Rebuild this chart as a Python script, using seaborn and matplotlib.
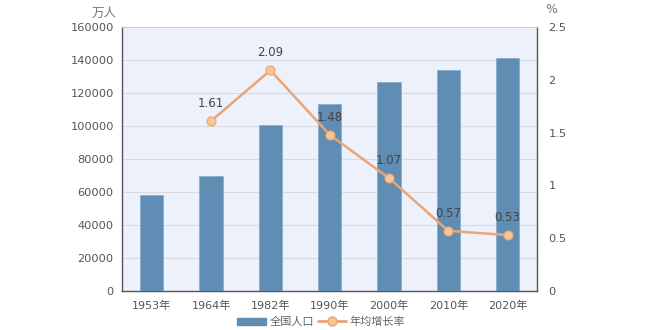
import matplotlib
matplotlib.use("Agg")
import matplotlib.pyplot as plt
import seaborn as sns
import pandas as pd
import numpy as np
from matplotlib.lines import Line2D
from matplotlib.patches import Patch

years = ["1953年", "1964年", "1982年", "1990年", "2000年", "2010年", "2020年"]
population = [58260, 69458, 100818, 113368, 126583, 133972, 141178]
rate_years = ["1964年", "1982年", "1990年", "2000年", "2010年", "2020年"]
rates = [1.61, 2.09, 1.48, 1.07, 0.57, 0.53]
left_ticks = [0, 20000, 40000, 60000, 80000, 100000, 120000, 140000, 160000]
right_ticks = [0, 0.5, 1, 1.5, 2, 2.5]
right_labels = ["0", "0.5", "1", "1.5", "2", "2.5"]

sns.set_theme(style="white")
plt.rcParams["font.family"] = ["DejaVu Sans", "Noto Sans CJK SC"]

txt = "#555555"
bar_c = "#5F8DB3"
line_c = "#EAA576"
mk_c = "#F9C594"

fig = plt.figure(figsize=(6.6, 3.3), dpi=100)
ax = fig.add_axes([0.185, 0.118, 0.629, 0.800])
ax.set_facecolor("#EDF1FB")

df = pd.DataFrame({"year": years, "pop": population})
sns.barplot(data=df, x="year", y="pop", ax=ax, color=bar_c, width=0.39,
            saturation=1, edgecolor="#8AAECB", linewidth=0.6, zorder=3)
ax.set_ylim(0, 160000)
ax.set_xlim(-0.5, len(years) - 0.5)
ax.set_yticks(left_ticks)
ax.set_yticklabels([str(v) for v in left_ticks], fontsize=8.2, color=txt)
ax.yaxis.grid(True, color="#D9D9DE", linewidth=0.8, zorder=0)
ax.set_axisbelow(True)
ax.set_xlabel("")
ax.set_ylabel("")
ax.set_xticks(range(len(years)))
ax.set_xticklabels(years, fontsize=8, color=txt, family=["DejaVu Sans", "Noto Sans CJK SC"])
ax.tick_params(axis="x", length=0, pad=7)
ax.tick_params(axis="y", length=0, pad=6)
# boundary ticks
ax.set_xticks(np.arange(-0.5, len(years) + 0.5, 1), minor=True)
ax.tick_params(axis="x", which="minor", length=4, color="#444444", direction="out")
for s in ["left", "bottom", "right"]:
    ax.spines[s].set_color("#555555")
    ax.spines[s].set_linewidth(1.0)
ax.spines["top"].set_color("#C8CCD6")
ax.spines["top"].set_linewidth(0.8)

ax2 = ax.twinx()
pos = [years.index(y) for y in rate_years]
ldf = pd.DataFrame({"x": pos, "r": rates})
sns.lineplot(data=ldf, x="x", y="r", ax=ax2, color=line_c, linewidth=1.8,
             marker="o", markersize=6.5, markerfacecolor=mk_c,
             markeredgecolor=line_c, markeredgewidth=0.8, zorder=5)
ax2.set_ylim(0, 2.5)
ax2.set_yticks(right_ticks)
ax2.set_yticklabels(right_labels, fontsize=8.2, color=txt)
ax2.tick_params(axis="y", length=0, pad=8)
ax2.set_ylabel("")
ax2.set_xlabel("")
ax2.grid(False)
for s in ax2.spines.values():
    s.set_visible(False)
for x, r in zip(pos, rates):
    ax2.annotate(f"{r:.2f}", (x, r), xytext=(0, 8), textcoords="offset points",
                 ha="center", va="bottom", fontsize=8.5, color="#444444")

fig.text(0.176, 0.958, "万人", ha="right", va="center", fontsize=9, color="#777777",
         family=["Noto Sans CJK SC", "DejaVu Sans"])
fig.text(0.826, 0.972, "%", ha="left", va="center", fontsize=9, color="#777777")

handles = [Patch(facecolor=bar_c, edgecolor=bar_c),
           Line2D([0], [0], color=line_c, lw=2, marker="o", markersize=6.5,
                  markerfacecolor=mk_c, markeredgecolor=line_c)]
leg = fig.legend(handles, ["全国人口", "年均增长率"], loc="center", bbox_to_anchor=(0.487, 0.025),
                 ncol=2, frameon=False, handlelength=2.6, handleheight=0.6,
                 columnspacing=0.3, handletextpad=0.3,
                 prop={"family": ["Noto Sans CJK SC", "DejaVu Sans"], "size": 8})
for t in leg.get_texts():
    t.set_color("#666666")

fig.savefig("out.png", dpi=100)
